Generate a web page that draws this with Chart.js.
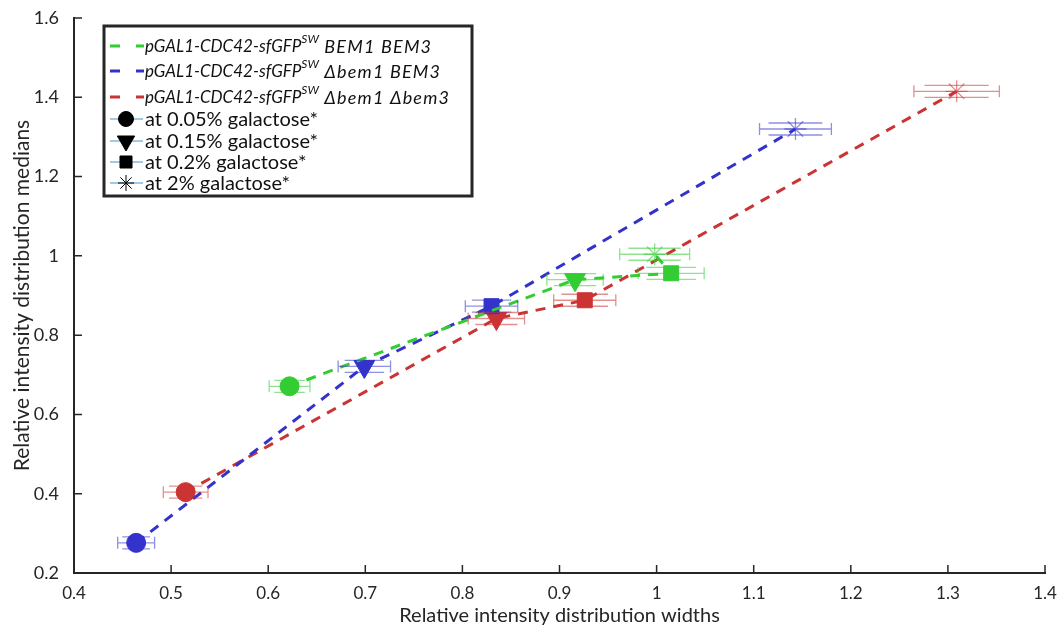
<!DOCTYPE html>
<html>
<head>
<meta charset="utf-8">
<script src="https://cdn.jsdelivr.net/npm/chart.js@4.4.0/dist/chart.umd.min.js"></script>
<style>
  body { margin: 0; background: #fff; }
  canvas { display: block; }
</style>
</head>
<body>
<canvas id="chart" width="1060" height="630"></canvas>
<script>
const construct = 'pGAL1-CDC42-sfGFP';
const strains = ['BEM1 BEM3', 'Δbem1 BEM3', 'Δbem1 Δbem3'];
const galactose = ['at 0.05% galactose*', 'at 0.15% galactose*', 'at 0.2% galactose*', 'at 2% galactose*'];
const xTicks = [0.4, 0.5, 0.6, 0.7, 0.8, 0.9, 1, 1.1, 1.2, 1.3, 1.4];
const yTicks = [0.2, 0.4, 0.6, 0.8, 1, 1.2, 1.4, 1.6];

// widths (x), medians (y), x error half-widths; order: 0.05%, 0.15%, 0.2%, 2%
const wtX = [0.622, 0.916, 1.015, 0.998];
const wtY = [0.671, 0.940, 0.956, 1.004];
const wtErr = [0.021, 0.029, 0.034, 0.036];

const bem1X = [0.464, 0.699, 0.830, 1.143];
const bem1Y = [0.276, 0.721, 0.873, 1.320];
const bem1Err = [0.019, 0.027, 0.027, 0.037];

const bem1bem3X = [0.515, 0.835, 0.926, 1.309];
const bem1bem3Y = [0.404, 0.842, 0.888, 1.415];
const bem1bem3Err = [0.023, 0.029, 0.032, 0.044];

const colors = ['#33cc33', '#3333cc', '#cc3333'];
const lightColors = ['rgba(51,204,51,0.55)', 'rgba(51,51,204,0.55)', 'rgba(204,51,51,0.55)'];
const FONT = 'Lato, "Open Sans", sans-serif';

const series = [
    { xs: wtX, ys: wtY, err: wtErr },
    { xs: bem1X, ys: bem1Y, err: bem1Err },
    { xs: bem1bem3X, ys: bem1bem3Y, err: bem1bem3Err }
];

const datasets = series.map((s, k) => ({
    label: strains[k],
    data: s.xs.map((x, i) => ({ x: x, y: s.ys[i] })),
    showLine: true,
    borderColor: colors[k],
    borderWidth: 3,
    borderDash: [10, 8],
    pointStyle: ['circle', 'triangle', 'rect', 'star'],
    pointRotation: [0, 180, 0, 0],
    pointRadius: [9.5, 12, 10.6, 11],
    pointBackgroundColor: colors[k],
    pointBorderColor: [colors[k], colors[k], colors[k], lightColors[k]],
    pointBorderWidth: [1, 1, 1, 1.3]
}));

const errorBars = {
    id: 'errorBars',
    afterDatasetsDraw(chart) {
        const { ctx, scales: { x, y } } = chart;
        ctx.save();
        ctx.lineWidth = 1.3;
        series.forEach((s, k) => {
            ctx.strokeStyle = lightColors[k];
            s.xs.forEach((v, i) => {
                const px = x.getPixelForValue(v);
                const py = y.getPixelForValue(s.ys[i]);
                const lo = x.getPixelForValue(v - s.err[i]);
                const hi = x.getPixelForValue(v + s.err[i]);
                const inner = (hi - px) * 0.75;
                ctx.beginPath();
                ctx.moveTo(lo, py); ctx.lineTo(hi, py);
                ctx.moveTo(lo, py - 6); ctx.lineTo(lo, py + 6);
                ctx.moveTo(hi, py - 6); ctx.lineTo(hi, py + 6);
                ctx.moveTo(px - inner, py - 6); ctx.lineTo(px + inner, py - 6);
                ctx.moveTo(px - inner, py + 6); ctx.lineTo(px + inner, py + 6);
                ctx.stroke();
            });
        });
        ctx.restore();
    }
};

const inwardTicks = {
    id: 'inwardTicks',
    afterDraw(chart) {
        const { ctx, scales: { x, y }, chartArea } = chart;
        ctx.save();
        ctx.strokeStyle = '#262626';
        ctx.lineWidth = 1.5;
        ctx.beginPath();
        x.ticks.forEach(t => {
            const px = x.getPixelForValue(t.value);
            ctx.moveTo(px, chartArea.bottom); ctx.lineTo(px, chartArea.bottom - 8);
        });
        y.ticks.forEach(t => {
            const py = y.getPixelForValue(t.value);
            ctx.moveTo(chartArea.left, py); ctx.lineTo(chartArea.left + 8, py);
        });
        ctx.stroke();
        ctx.restore();
    }
};

function drawParts(ctx, x, y, parts) {
    parts.forEach(p => {
        ctx.font = p.font;
        ctx.letterSpacing = p.spacing || '0px';
        ctx.fillText(p.t, x, y + (p.dy || 0));
        x += ctx.measureText(p.t).width;
    });
    ctx.letterSpacing = '0px';
}

const boxLegend = {
    id: 'boxLegend',
    afterDraw(chart) {
        const ctx = chart.ctx;
        ctx.save();
        ctx.fillStyle = '#fff';
        ctx.fillRect(104, 26, 368, 170);
        ctx.strokeStyle = '#262626';
        ctx.lineWidth = 3;
        ctx.strokeRect(104, 26, 368, 170);

        const rowY = [46, 71, 97, 119, 141, 162, 183];
        ctx.textBaseline = 'middle';
        ctx.fillStyle = '#111';
        strains.forEach((s, k) => {
            ctx.strokeStyle = colors[k];
            ctx.lineWidth = 3;
            ctx.setLineDash([10, 16]);
            ctx.beginPath();
            ctx.moveTo(110, rowY[k]); ctx.lineTo(144, rowY[k]);
            ctx.stroke();
            ctx.setLineDash([]);
            drawParts(ctx, 145, rowY[k] + 1, [
                { t: construct, font: 'italic 17px ' + FONT },
                { t: 'SW', font: 'italic 12px ' + FONT, dy: -8 },
                { t: ' ' + s, font: 'italic 18px ' + FONT, spacing: '1.2px' }
            ]);
        });

        const styles = ['circle', 'triangle', 'rect', 'star'];
        const rot = [0, 180, 0, 0];
        const rad = [7.5, 10, 8.5, 8];
        galactose.forEach((g, i) => {
            const yy = rowY[3 + i];
            ctx.strokeStyle = '#7fb8e0';
            ctx.lineWidth = 1.3;
            ctx.beginPath();
            ctx.moveTo(110, yy); ctx.lineTo(143, yy);
            ctx.stroke();
            ctx.fillStyle = '#000';
            ctx.strokeStyle = '#000';
            ctx.lineWidth = 1;
            Chart.helpers.drawPoint(ctx, { pointStyle: styles[i], rotation: rot[i], radius: rad[i], borderWidth: 1 }, 126, yy);
            ctx.font = '20px ' + FONT;
            ctx.fillStyle = '#111';
            ctx.fillText(g, 145, yy + 1);
        });
        ctx.restore();
    }
};

new Chart(document.getElementById('chart').getContext('2d'), {
    type: 'scatter',
    data: { datasets: datasets },
    options: {
        responsive: false,
        animation: false,
        events: [],
        layout: { padding: { top: 18, right: 15, left: 0, bottom: 0 } },
        scales: {
            x: {
                type: 'linear',
                min: xTicks[0],
                max: xTicks[xTicks.length - 1],
                afterBuildTicks: s => { s.ticks = xTicks.map(v => ({ value: v })); },
                afterFit: s => { s.height = 57; },
                grid: { display: false },
                border: { color: '#262626', width: 2 },
                ticks: {
                    color: '#262626', padding: 2,
                    font: { family: FONT, size: 17 },
                    callback: v => String(+v.toFixed(1))
                },
                title: {
                    display: true, text: 'Relative intensity distribution widths',
                    color: '#262626', font: { family: FONT, size: 20 },
                    padding: { top: 0, bottom: 2 }
                }
            },
            y: {
                type: 'linear',
                min: yTicks[0],
                max: yTicks[yTicks.length - 1],
                afterBuildTicks: s => { s.ticks = yTicks.map(v => ({ value: v })); },
                afterFit: s => { s.width = 74; },
                grid: { display: false },
                border: { color: '#262626', width: 2 },
                ticks: {
                    color: '#262626', padding: 7,
                    font: { family: FONT, size: 18 },
                    callback: v => String(+v.toFixed(1))
                },
                title: {
                    display: true, text: 'Relative intensity distribution medians',
                    color: '#262626', font: { family: FONT, size: 21 },
                    padding: { top: 10, bottom: 0 }
                }
            }
        },
        plugins: {
            legend: { display: false },
            tooltip: { enabled: false }
        }
    },
    plugins: [errorBars, inwardTicks, boxLegend]
});
</script>
</body>
</html>
